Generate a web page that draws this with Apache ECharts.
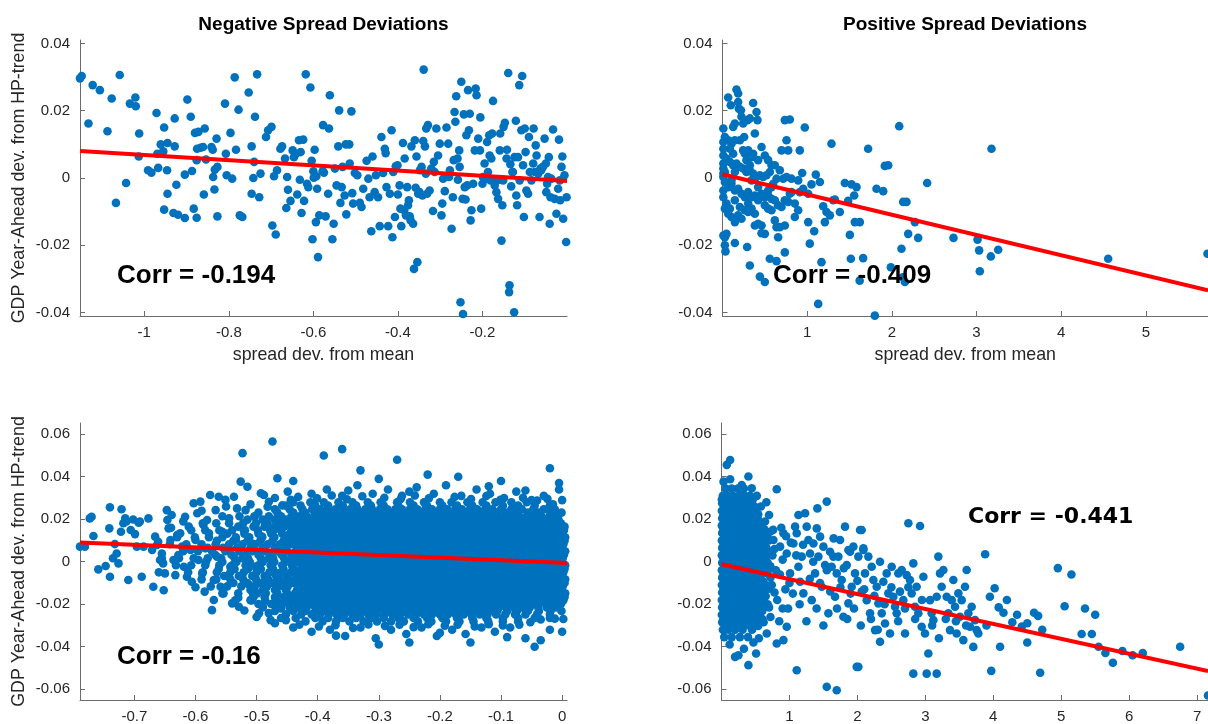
<!DOCTYPE html>
<html>
<head>
<meta charset="utf-8">
<script src="https://cdn.jsdelivr.net/npm/echarts@6/dist/echarts.min.js"></script>
<style>
  html, body { margin: 0; padding: 0; background: #fff; }
  #chart { width: 1208px; height: 724px; }
</style>
</head>
<body>
<div id="chart"></div>
<script>
// tick positions
const tlXTicks = [-1, -0.8, -0.6, -0.4, -0.2];
const trXTicks = [1, 2, 3, 4, 5];
const blXTicks = [-0.7, -0.6, -0.5, -0.4, -0.3, -0.2, -0.1, 0];
const brXTicks = [1, 2, 3, 4, 5, 6, 7];
const topYTicks = [-0.04, -0.02, 0, 0.02, 0.04];
const botYTicks = [-0.06, -0.04, -0.02, 0, 0.02, 0.04, 0.06];

// corr annotations
const corrLabels = ['Corr = -0.194', 'Corr = -0.409', 'Corr = -0.16', 'Corr = -0.441'];

// fitted lines (end points)
const tlFit = [[-1.152, 0.0080], [0, -0.0009]];
const trFit = [[0, 0.0011], [5.734, -0.0334]];
const blFit = [[-0.789, 0.0090], [0.008, -0.0006]];
const brFit = [[0, -0.0012], [7.16, -0.0515]];

// negative spread deviations, top (x, y)
const tlPoints = [[-1.152,0.0296],[-1.148,0.0303],[-1.132,0.0162],[-1.122,0.0276],[-1.105,0.0261],[-1.087,0.0139],[-1.077,0.0236],[-1.067,-0.0074],[-1.058,0.0306],[-1.043,-0.0015],[-1.034,0.0221],[-1.021,0.0239],[-1.020,0.0213],[-1.013,0.0064],[-1.012,0.0132],[-0.991,0.0023],[-0.983,0.0016],[-0.971,0.0193],[-0.969,0.0072],[-0.967,0.0030],[-0.961,0.0100],[-0.955,0.0079],[-0.953,0.0150],[-0.953,-0.0094],[-0.946,0.0023],[-0.945,0.0104],[-0.945,-0.0047],[-0.931,-0.0104],[-0.928,0.0094],[-0.928,0.0177],[-0.924,-0.0020],[-0.920,-0.0109],[-0.904,-0.0119],[-0.904,0.0010],[-0.898,0.0233],[-0.890,0.0182],[-0.887,0.0021],[-0.883,-0.0091],[-0.880,0.0134],[-0.876,-0.0118],[-0.876,0.0053],[-0.875,0.0087],[-0.872,0.0137],[-0.867,0.0090],[-0.861,0.0092],[-0.859,-0.0049],[-0.857,0.0147],[-0.854,0.0055],[-0.841,0.0092],[-0.838,0.0084],[-0.837,0.0003],[-0.834,-0.0034],[-0.833,0.0025],[-0.829,0.0117],[-0.827,-0.0114],[-0.827,0.0033],[-0.809,0.0221],[-0.807,0.0072],[-0.805,0.0008],[-0.796,0.0134],[-0.792,-0.0002],[-0.786,0.0299],[-0.783,0.0084],[-0.777,0.0203],[-0.774,-0.0111],[-0.768,-0.0116],[-0.753,0.0254],[-0.746,0.0094],[-0.746,-0.0047],[-0.742,0],[-0.740,0.0048],[-0.738,0.0182],[-0.733,0.0308],[-0.728,-0.0057],[-0.725,0.0013],[-0.712,0.0122],[-0.707,0.0142],[-0.699,0.0152],[-0.697,-0.0141],[-0.693,0.0005],[-0.689,-0.0168],[-0.686,0.0023],[-0.678,0.0087],[-0.674,0.0094],[-0.667,0.0058],[-0.664,-0.0089],[-0.662,0.0003],[-0.660,-0.0035],[-0.654,-0.0068],[-0.649,0.0082],[-0.646,0.0062],[-0.641,0.0072],[-0.638,-0.0049],[-0.634,0.0112],[-0.632,-0.0005],[-0.630,0.0077],[-0.628,-0.0104],[-0.624,0.0114],[-0.622,-0.0068],[-0.618,0.0308],[-0.615,-0.0017],[-0.612,-0.0027],[-0.607,0.0269],[-0.604,0.0051],[-0.602,-0.0182],[-0.600,0.0020],[-0.599,0.0001],[-0.597,0.0084],[-0.594,-0.0131],[-0.593,0.0005],[-0.591,-0.0032],[-0.589,-0.0235],[-0.586,-0.0111],[-0.578,0.0020],[-0.577,0.0157],[-0.575,0.0016],[-0.571,-0.0114],[-0.565,-0.0047],[-0.563,0.0147],[-0.561,0.0246],[-0.555,-0.0182],[-0.552,-0.0136],[-0.549,0.0028],[-0.545,-0.0022],[-0.541,0.0094],[-0.539,0.0201],[-0.536,-0.0074],[-0.533,-0.0027],[-0.531,0.0033],[-0.526,-0.0052],[-0.523,0.0100],[-0.522,-0.0108],[-0.515,0.0100],[-0.514,0.0043],[-0.510,0.0198],[-0.508,-0.0045],[-0.506,-0.0076],[-0.502,0.0015],[-0.496,0.0008],[-0.490,-0.0074],[-0.486,-0.0086],[-0.482,-0.0032],[-0.474,0.0051],[-0.470,-0.0002],[-0.467,-0.0057],[-0.463,-0.0158],[-0.460,0.0064],[-0.455,-0.0042],[-0.452,0.0008],[-0.447,-0.0057],[-0.443,-0.0143],[-0.439,0.0122],[-0.435,0.0015],[-0.431,0.0087],[-0.429,0.0074],[-0.427,-0.0027],[-0.423,-0.0143],[-0.419,-0.0047],[-0.415,0.0142],[-0.413,-0.0176],[-0.411,0.0018],[-0.407,-0.0116],[-0.405,0.0035],[-0.401,0.0038],[-0.400,-0.0049],[-0.396,-0.0022],[-0.394,-0.0091],[-0.392,-0.0143],[-0.388,0.0104],[-0.385,-0.0096],[-0.384,0.0058],[-0.381,-0.0111],[-0.378,-0.0027],[-0.376,-0.0081],[-0.374,-0.0066],[-0.372,-0.0114],[-0.370,-0.0126],[-0.368,0.0094],[-0.364,-0.0136],[-0.362,-0.0270],[-0.360,0.0112],[-0.358,-0.0029],[-0.356,0.0064],[-0.354,-0.0250],[-0.352,-0.0047],[-0.349,-0.0042],[-0.348,0.0023],[-0.344,0.0033],[-0.342,-0.0052],[-0.340,0.0110],[-0.339,0.0322],[-0.336,0.0094],[-0.334,0.0013],[-0.333,0.0147],[-0.331,-0.0047],[-0.329,0.0157],[-0.325,-0.0037],[-0.321,0.0028],[-0.317,-0.0098],[-0.315,0.0048],[-0.313,0.0018],[-0.309,0.0147],[-0.305,0.0067],[-0.301,0.0102],[-0.297,-0.0111],[-0.295,-0.0076],[-0.293,-0.0002],[-0.289,-0.0039],[-0.285,0.0150],[-0.281,0.0102],[-0.279,0.0003],[-0.277,0.0023],[-0.273,-0.0151],[-0.270,-0.0057],[-0.268,0.0053],[-0.266,0.0196],[-0.264,0.0167],[-0.262,0.0243],[-0.259,0.0058],[-0.258,-0.0005],[-0.255,0.0082],[-0.254,0.0033],[-0.252,-0.0369],[-0.250,0.0286],[-0.247,-0.0062],[-0.246,-0.0404],[-0.244,0.0189],[-0.242,-0.0027],[-0.240,-0.0064],[-0.238,0.0127],[-0.236,-0.0022],[-0.234,0.0261],[-0.232,0.0142],[-0.230,0.0191],[-0.228,-0.0126],[-0.226,-0.0096],[-0.222,-0.0017],[-0.218,0.0082],[-0.216,0.0266],[-0.214,0.0246],[-0.210,0.0117],[-0.206,0.0082],[-0.205,0.0180],[-0.203,-0.0091],[-0.200,-0.0017],[-0.199,0.0003],[-0.195,0.0043],[-0.191,-0.0002],[-0.189,0.0107],[-0.187,0.0018],[-0.184,0.0127],[-0.183,0.0067],[-0.181,-0.0007],[-0.179,0.0058],[-0.177,0.0132],[-0.175,0.0229],[-0.171,-0.0022],[-0.167,-0.0042],[-0.165,-0.0007],[-0.163,-0.0062],[-0.159,0.0082],[-0.158,0.0132],[-0.155,-0.0186],[-0.153,-0.0081],[-0.151,-0.0007],[-0.150,0.0152],[-0.147,0.0164],[-0.143,0.0058],[-0.142,0.0084],[-0.139,0.0312],[-0.137,-0.0339],[-0.136,-0.0319],[-0.134,0.0041],[-0.132,-0.0025],[-0.129,0.0018],[-0.128,0.0018],[-0.125,-0.0399],[-0.124,0.0062],[-0.121,0.0170],[-0.120,-0.0052],[-0.118,-0.0081],[-0.116,0.0062],[-0.113,0.0276],[-0.112,-0.0007],[-0.108,0.0142],[-0.106,0.0303],[-0.104,0.0038],[-0.102,-0.0116],[-0.100,0.0147],[-0.098,0.0077],[-0.096,-0.0037],[-0.092,-0.0047],[-0.090,0.0122],[-0.088,0.0018],[-0.084,-0.0007],[-0.080,0.0043],[-0.079,0.0147],[-0.076,0.0018],[-0.074,0.0097],[-0.072,0.0067],[-0.068,0.0013],[-0.065,-0.0116],[-0.063,0.0028],[-0.061,0.0023],[-0.057,0.0033],[-0.053,0.0117],[-0.050,0.0043],[-0.049,-0.0042],[-0.047,-0.0017],[-0.045,0.0003],[-0.043,0.0062],[-0.041,-0.0136],[-0.039,-0.0057],[-0.037,-0.0002],[-0.033,0.0144],[-0.029,-0.0062],[-0.025,-0.0106],[-0.021,-0.0032],[-0.019,0.0114],[-0.017,-0.0007],[-0.016,-0.0066],[-0.013,0.0033],[-0.011,0.0064],[-0.009,-0.0121],[-0.006,0.0008],[-0.002,-0.0190],[-0.001,-0.0057]];

// positive spread deviations, top (x, y)
const trPoints = [[0.067,0.0239],[0.098,0.0216],[0.126,0.0152],[0.146,0.0162],[0.165,0.0263],[0.185,0.0251],[0.185,0.0226],[0.193,0.0206],[0.217,0.0201],[0.224,0.0182],[0.244,0.0162],[0.256,0.0122],[0.295,0.0172],[0.323,0.0177],[0.362,0.0223],[0.382,0.0132],[0.402,0.0196],[0.413,0.0172],[0.01,0.0147],[0.01,0.0107],[0.01,0.0087],[0.028,0.0122],[0.067,0.0112],[0.087,0.0087],[0.106,0.0102],[0.146,0.0112],[0.205,0.0112],[0.244,0.0082],[0.264,0.0072],[0.303,0.0082],[0.343,0.0062],[0.362,0.0072],[0.421,0.0053],[0.461,0.0092],[0.500,0.0067],[0.539,0.0053],[0.579,0.0038],[0.618,0.0038],[0.01,0.0028],[0.01,0.0043],[0.047,0.0058],[0.087,0.0048],[0.126,0.0038],[0.165,0.0043],[0.205,0.0033],[0.244,0.0028],[0.283,0.0018],[0.323,0.0023],[0.362,0.0013],[0.402,0.0003],[0.441,0.0008],[0.480,0.0003],[0.520,0.0008],[0.559,0.0018],[0.598,-0.0017],[0.638,-0.0002],[0.677,0.0023],[0.717,-0.0002],[0.756,0.0003],[0.795,-0.0047],[0.01,0.0003],[0.028,-0.0012],[0.067,-0.0027],[0.106,-0.0017],[0.146,-0.0037],[0.185,-0.0032],[0.224,-0.0047],[0.264,-0.0057],[0.303,-0.0042],[0.343,-0.0057],[0.382,-0.0052],[0.421,-0.0027],[0.461,-0.0047],[0.500,-0.0057],[0.539,-0.0052],[0.579,-0.0062],[0.618,-0.0066],[0.657,-0.0081],[0.697,-0.0086],[0.736,-0.0066],[0.776,-0.0071],[0.815,-0.0042],[0.01,-0.0037],[0.01,-0.0057],[0.028,-0.0091],[0.067,-0.0106],[0.106,-0.0116],[0.146,-0.0131],[0.185,-0.0111],[0.224,-0.0121],[0.264,-0.0096],[0.303,-0.0101],[0.343,-0.0091],[0.382,-0.0106],[0.421,-0.0136],[0.461,-0.0141],[0.500,-0.0081],[0.539,-0.0091],[0.579,-0.0096],[0.618,-0.0126],[0.638,-0.0146],[0.677,-0.0146],[0.736,-0.0141],[0.854,-0.0116],[0.894,-0.0007],[0.913,0.0082],[0.941,0.0015],[0.972,0.0150],[1.012,-0.0131],[1.031,-0.0195],[1.051,-0.0019],[1.083,-0.0158],[1.102,0.0010],[1.150,-0.0012],[1.169,-0.0250],[1.189,-0.0084],[1.209,-0.0131],[1.228,-0.0101],[1.287,0.0102],[1.268,-0.0111],[1.307,-0.0066],[1.327,-0.0064],[1.386,-0.0101],[1.445,-0.0015],[1.484,-0.0068],[1.504,-0.0169],[1.516,-0.0240],[1.524,-0.0019],[1.555,-0.0052],[1.563,-0.0131],[1.583,-0.0027],[1.622,-0.0131],[1.661,-0.0238],[1.720,0.0087],[1.819,-0.0032],[1.898,-0.0039],[1.917,0.0036],[1.957,0.0038],[1.988,-0.0265],[2.087,0.0154],[2.114,-0.0210],[2.134,-0.0071],[2.154,-0.0309],[2.173,-0.0071],[2.193,-0.0166],[2.272,-0.0131],[2.311,-0.0178],[2.417,-0.0015],[2.728,-0.0178],[3.012,-0.0183],[3.031,-0.0215],[3.039,-0.0277],[3.169,-0.0233],[3.177,0.0087],[3.256,-0.0213],[4.555,-0.0240],[5.728,-0.0225],[0.01,-0.0171],[0.028,-0.0200],[0.035,-0.0218],[0.146,-0.0193],[0.291,-0.0205],[0.323,-0.0260],[0.441,-0.0293],[0.500,-0.0309],[0.559,-0.0240],[0.638,-0.0247],[0.657,-0.0176],[0.736,-0.0221],[1.130,-0.0374],[1.799,-0.0409],[0.047,-0.0166],[0.500,-0.0166],[0.461,-0.0164],[0.382,-0.0141],[0.421,-0.0066],[0.028,-0.0176],[0.106,-0.0007],[0.146,0.0018],[0.028,0.0018],[0.01,0.0013],[0.01,0.0067],[0.126,0.0072],[0.283,0.0053],[0.323,0.0038],[0.343,-0.0007],[0.146,-0.0066],[0.205,-0.0086],[0.047,-0.0076],[0.087,-0.0091],[0.303,-0.0076],[0.815,-0.0002],[0.776,0.0082],[0.756,0.0112],[0.736,0.0172],[0.795,0.0174],[0.697,0.0082],[0.913,-0.0042],[0.953,-0.0032],[1.012,-0.0047],[0.854,-0.0076],[0.894,-0.0096],[0.539,-0.0037],[0.579,-0.0027],[2.13,-0.0295],[1.62,-0.0305]];

// negative spread deviations, bottom: dense core read row by row [y, [x...]]
const blRows = [
  [0.0280, [-0.44,-0.412,-0.39,-0.366,-0.343,-0.318,-0.297,-0.27,-0.249,-0.226,-0.2,-0.181,-0.155,-0.13,-0.109,-0.083,-0.058]],
  [0.0264, [-0.452,-0.428,-0.404,-0.383,-0.359,-0.337,-0.313,-0.292,-0.268,-0.243,-0.221,-0.196,-0.172,-0.147,-0.124,-0.097,-0.072,-0.045,-0.02]],
  [0.0247, [-0.47,-0.446,-0.425,-0.409,-0.396,-0.384,-0.371,-0.36,-0.347,-0.335,-0.322,-0.311,-0.298,-0.286,-0.273,-0.262,-0.249,-0.237,-0.224,-0.213,-0.2,-0.188,-0.175,-0.164,-0.151,-0.139,-0.126,-0.114,-0.1,-0.083,-0.066,-0.047,-0.03,-0.012]],
  [0.0231, [-0.497,-0.466,-0.44,-0.421,-0.403,-0.39,-0.378,-0.365,-0.353,-0.341,-0.328,-0.316,-0.304,-0.291,-0.279,-0.267,-0.254,-0.242,-0.23,-0.217,-0.205,-0.193,-0.18,-0.168,-0.156,-0.143,-0.131,-0.119,-0.106,-0.09,-0.074,-0.056,-0.038,-0.019,-0.001]],
  [0.0214, [-0.556,-0.528,-0.503,-0.48,-0.46,-0.443,-0.43,-0.418,-0.406,-0.394,-0.382,-0.37,-0.358,-0.346,-0.334,-0.322,-0.31,-0.298,-0.286,-0.274,-0.262,-0.25,-0.238,-0.226,-0.214,-0.202,-0.19,-0.178,-0.166,-0.154,-0.142,-0.13,-0.118,-0.106,-0.094,-0.082,-0.07,-0.058,-0.046,-0.034,-0.021,-0.008]],
  [0.0198, [-0.515,-0.49,-0.47,-0.452,-0.439,-0.427,-0.415,-0.403,-0.391,-0.379,-0.367,-0.355,-0.343,-0.331,-0.319,-0.307,-0.295,-0.283,-0.271,-0.259,-0.247,-0.235,-0.223,-0.211,-0.199,-0.187,-0.175,-0.163,-0.151,-0.139,-0.127,-0.115,-0.103,-0.091,-0.079,-0.067,-0.055,-0.043,-0.031,-0.019,-0.006]],
  [0.0181, [-0.588,-0.566,-0.545,-0.522,-0.501,-0.482,-0.465,-0.449,-0.436,-0.424,-0.412,-0.4,-0.388,-0.376,-0.364,-0.352,-0.34,-0.328,-0.316,-0.304,-0.292,-0.28,-0.268,-0.256,-0.244,-0.232,-0.22,-0.208,-0.196,-0.184,-0.172,-0.16,-0.148,-0.136,-0.124,-0.112,-0.1,-0.088,-0.076,-0.064,-0.052,-0.04,-0.028,-0.015,-0.002]],
  [0.0165, [-0.53,-0.505,-0.487,-0.47,-0.455,-0.441,-0.428,-0.416,-0.404,-0.392,-0.38,-0.368,-0.356,-0.344,-0.332,-0.32,-0.308,-0.296,-0.284,-0.272,-0.26,-0.248,-0.236,-0.224,-0.212,-0.2,-0.188,-0.176,-0.164,-0.152,-0.14,-0.128,-0.116,-0.104,-0.092,-0.08,-0.068,-0.056,-0.044,-0.032,-0.02,-0.008,0.004]],
  [0.0148, [-0.607,-0.584,-0.561,-0.54,-0.519,-0.498,-0.478,-0.46,-0.443,-0.431,-0.419,-0.405,-0.394,-0.381,-0.37,-0.357,-0.346,-0.333,-0.322,-0.309,-0.298,-0.285,-0.274,-0.261,-0.25,-0.237,-0.226,-0.213,-0.202,-0.189,-0.178,-0.165,-0.154,-0.141,-0.13,-0.117,-0.106,-0.093,-0.082,-0.069,-0.058,-0.045,-0.034,-0.021,-0.01,0.003]],
  [0.0132, [-0.548,-0.52,-0.497,-0.476,-0.458,-0.446,-0.434,-0.422,-0.41,-0.398,-0.386,-0.374,-0.362,-0.35,-0.338,-0.326,-0.314,-0.302,-0.29,-0.278,-0.266,-0.254,-0.242,-0.23,-0.218,-0.206,-0.194,-0.182,-0.17,-0.158,-0.146,-0.134,-0.122,-0.11,-0.098,-0.086,-0.074,-0.062,-0.05,-0.038,-0.026,-0.014,-0.002]],
  [0.0115, [-0.63,-0.601,-0.578,-0.556,-0.534,-0.512,-0.491,-0.471,-0.452,-0.437,-0.425,-0.412,-0.401,-0.388,-0.377,-0.364,-0.353,-0.34,-0.329,-0.316,-0.305,-0.292,-0.281,-0.268,-0.257,-0.244,-0.233,-0.22,-0.209,-0.196,-0.185,-0.172,-0.161,-0.148,-0.137,-0.124,-0.113,-0.1,-0.089,-0.076,-0.065,-0.052,-0.041,-0.028,-0.017,-0.004,0.005]],
  [0.0099, [-0.565,-0.538,-0.515,-0.494,-0.474,-0.456,-0.44,-0.428,-0.416,-0.404,-0.392,-0.38,-0.368,-0.356,-0.344,-0.332,-0.32,-0.308,-0.296,-0.284,-0.272,-0.26,-0.248,-0.236,-0.224,-0.212,-0.2,-0.188,-0.176,-0.164,-0.152,-0.14,-0.128,-0.116,-0.104,-0.092,-0.08,-0.068,-0.056,-0.044,-0.032,-0.02,-0.008,0.004]],
  [0.0082, [-0.642,-0.615,-0.59,-0.567,-0.545,-0.523,-0.502,-0.482,-0.462,-0.445,-0.43,-0.418,-0.407,-0.394,-0.383,-0.37,-0.359,-0.346,-0.335,-0.322,-0.311,-0.298,-0.287,-0.274,-0.263,-0.25,-0.239,-0.226,-0.215,-0.202,-0.191,-0.178,-0.167,-0.154,-0.143,-0.13,-0.119,-0.106,-0.095,-0.082,-0.071,-0.058,-0.047,-0.034,-0.023,-0.01,0.002]],
  [0.0066, [-0.58,-0.555,-0.532,-0.51,-0.49,-0.47,-0.452,-0.434,-0.422,-0.41,-0.398,-0.386,-0.374,-0.362,-0.35,-0.338,-0.326,-0.314,-0.302,-0.29,-0.278,-0.266,-0.254,-0.242,-0.23,-0.218,-0.206,-0.194,-0.182,-0.17,-0.158,-0.146,-0.134,-0.122,-0.11,-0.098,-0.086,-0.074,-0.062,-0.05,-0.038,-0.026,-0.014,-0.002]],
  [0.0049, [-0.62,-0.596,-0.573,-0.551,-0.529,-0.507,-0.486,-0.466,-0.45,-0.436,-0.424,-0.413,-0.4,-0.389,-0.376,-0.365,-0.352,-0.341,-0.328,-0.317,-0.304,-0.293,-0.28,-0.269,-0.256,-0.245,-0.232,-0.221,-0.208,-0.197,-0.184,-0.173,-0.16,-0.149,-0.136,-0.125,-0.112,-0.101,-0.088,-0.077,-0.064,-0.053,-0.04,-0.029,-0.016,-0.005,0.005]],
  [0.0033, [-0.568,-0.541,-0.518,-0.497,-0.477,-0.459,-0.442,-0.429,-0.417,-0.405,-0.393,-0.381,-0.369,-0.357,-0.345,-0.333,-0.321,-0.309,-0.297,-0.285,-0.273,-0.261,-0.249,-0.237,-0.225,-0.213,-0.201,-0.189,-0.177,-0.165,-0.153,-0.141,-0.129,-0.117,-0.105,-0.093,-0.081,-0.069,-0.057,-0.045,-0.033,-0.021,-0.009,0.003]],
  [0.0016, [-0.655,-0.627,-0.603,-0.58,-0.558,-0.536,-0.514,-0.493,-0.473,-0.455,-0.443,-0.431,-0.419,-0.406,-0.395,-0.382,-0.371,-0.358,-0.347,-0.334,-0.323,-0.31,-0.299,-0.286,-0.275,-0.262,-0.251,-0.238,-0.227,-0.214,-0.203,-0.19,-0.179,-0.166,-0.155,-0.142,-0.131,-0.118,-0.107,-0.094,-0.083,-0.07,-0.059,-0.046,-0.035,-0.022,-0.011,0.001]],
  [-0.0001, [-0.583,-0.556,-0.533,-0.511,-0.49,-0.471,-0.453,-0.435,-0.423,-0.411,-0.399,-0.387,-0.375,-0.363,-0.351,-0.339,-0.327,-0.315,-0.303,-0.291,-0.279,-0.267,-0.255,-0.243,-0.231,-0.219,-0.207,-0.195,-0.183,-0.171,-0.159,-0.147,-0.135,-0.123,-0.111,-0.099,-0.087,-0.075,-0.063,-0.051,-0.039,-0.027,-0.015,-0.003]],
  [-0.0017, [-0.632,-0.607,-0.584,-0.561,-0.54,-0.518,-0.497,-0.477,-0.458,-0.442,-0.425,-0.412,-0.401,-0.388,-0.377,-0.364,-0.353,-0.34,-0.329,-0.316,-0.305,-0.292,-0.281,-0.268,-0.257,-0.244,-0.233,-0.22,-0.209,-0.196,-0.185,-0.172,-0.161,-0.148,-0.137,-0.124,-0.113,-0.1,-0.089,-0.076,-0.065,-0.052,-0.041,-0.028,-0.017,-0.004,0.005]],
  [-0.0034, [-0.562,-0.536,-0.514,-0.493,-0.473,-0.456,-0.44,-0.428,-0.416,-0.404,-0.392,-0.38,-0.368,-0.356,-0.344,-0.332,-0.32,-0.308,-0.296,-0.284,-0.272,-0.26,-0.248,-0.236,-0.224,-0.212,-0.2,-0.188,-0.176,-0.164,-0.152,-0.14,-0.128,-0.116,-0.104,-0.092,-0.08,-0.068,-0.056,-0.044,-0.032,-0.02,-0.008,0.004]],
  [-0.0050, [-0.612,-0.588,-0.565,-0.543,-0.521,-0.5,-0.479,-0.46,-0.444,-0.43,-0.418,-0.407,-0.394,-0.383,-0.37,-0.359,-0.346,-0.335,-0.322,-0.311,-0.298,-0.287,-0.274,-0.263,-0.25,-0.239,-0.226,-0.215,-0.202,-0.191,-0.178,-0.167,-0.154,-0.143,-0.13,-0.119,-0.106,-0.095,-0.082,-0.071,-0.058,-0.047,-0.034,-0.023,-0.01,0.002]],
  [-0.0067, [-0.553,-0.529,-0.507,-0.487,-0.468,-0.451,-0.434,-0.422,-0.41,-0.398,-0.386,-0.374,-0.362,-0.35,-0.338,-0.326,-0.314,-0.302,-0.29,-0.278,-0.266,-0.254,-0.242,-0.23,-0.218,-0.206,-0.194,-0.182,-0.17,-0.158,-0.146,-0.134,-0.122,-0.11,-0.098,-0.086,-0.074,-0.062,-0.05,-0.038,-0.026,-0.014,-0.002]],
  [-0.0083, [-0.59,-0.566,-0.543,-0.522,-0.501,-0.481,-0.463,-0.447,-0.436,-0.424,-0.413,-0.4,-0.389,-0.376,-0.365,-0.352,-0.341,-0.328,-0.317,-0.304,-0.293,-0.28,-0.269,-0.256,-0.245,-0.232,-0.221,-0.208,-0.197,-0.184,-0.173,-0.16,-0.149,-0.136,-0.125,-0.112,-0.101,-0.088,-0.077,-0.064,-0.053,-0.04,-0.029,-0.016,-0.005,0.005]],
  [-0.0100, [-0.538,-0.515,-0.494,-0.474,-0.456,-0.44,-0.428,-0.416,-0.404,-0.392,-0.38,-0.368,-0.356,-0.344,-0.332,-0.32,-0.308,-0.296,-0.284,-0.272,-0.26,-0.248,-0.236,-0.224,-0.212,-0.2,-0.188,-0.176,-0.164,-0.152,-0.14,-0.128,-0.116,-0.104,-0.092,-0.08,-0.068,-0.056,-0.044,-0.032,-0.02,-0.008,0.004]],
  [-0.0116, [-0.575,-0.548,-0.525,-0.503,-0.483,-0.465,-0.449,-0.431,-0.419,-0.406,-0.395,-0.382,-0.371,-0.358,-0.347,-0.334,-0.323,-0.31,-0.299,-0.286,-0.275,-0.262,-0.251,-0.238,-0.227,-0.214,-0.203,-0.19,-0.179,-0.166,-0.155,-0.142,-0.131,-0.118,-0.107,-0.094,-0.083,-0.07,-0.059,-0.046,-0.035,-0.022,-0.011,0.001]],
  [-0.0133, [-0.51,-0.49,-0.47,-0.452,-0.434,-0.422,-0.41,-0.398,-0.386,-0.374,-0.362,-0.35,-0.338,-0.326,-0.314,-0.302,-0.29,-0.278,-0.266,-0.254,-0.242,-0.23,-0.218,-0.206,-0.194,-0.182,-0.17,-0.158,-0.146,-0.134,-0.122,-0.11,-0.098,-0.086,-0.074,-0.062,-0.05,-0.038,-0.026,-0.014,-0.002]],
  [-0.0149, [-0.556,-0.53,-0.506,-0.485,-0.466,-0.45,-0.437,-0.425,-0.412,-0.401,-0.388,-0.377,-0.364,-0.353,-0.34,-0.329,-0.316,-0.305,-0.292,-0.281,-0.268,-0.257,-0.244,-0.233,-0.22,-0.209,-0.196,-0.185,-0.172,-0.161,-0.148,-0.137,-0.124,-0.113,-0.1,-0.089,-0.076,-0.065,-0.052,-0.041,-0.028,-0.017,-0.004,0.005]],
  [-0.0166, [-0.505,-0.487,-0.47,-0.455,-0.441,-0.428,-0.416,-0.404,-0.392,-0.38,-0.368,-0.356,-0.344,-0.332,-0.32,-0.308,-0.296,-0.284,-0.272,-0.26,-0.248,-0.236,-0.224,-0.212,-0.2,-0.188,-0.176,-0.164,-0.152,-0.14,-0.128,-0.116,-0.104,-0.092,-0.08,-0.068,-0.056,-0.044,-0.032,-0.02,-0.008,0.004]],
  [-0.0182, [-0.535,-0.508,-0.486,-0.467,-0.449,-0.43,-0.418,-0.407,-0.394,-0.383,-0.37,-0.359,-0.346,-0.335,-0.322,-0.311,-0.298,-0.287,-0.274,-0.263,-0.25,-0.239,-0.226,-0.215,-0.202,-0.191,-0.178,-0.167,-0.154,-0.143,-0.13,-0.119,-0.106,-0.095,-0.082,-0.071,-0.058,-0.047,-0.034,-0.023,-0.01,0.002]],
  [-0.0199, [-0.497,-0.476,-0.458,-0.446,-0.434,-0.422,-0.41,-0.398,-0.386,-0.374,-0.362,-0.35,-0.338,-0.326,-0.314,-0.302,-0.29,-0.278,-0.266,-0.254,-0.242,-0.23,-0.218,-0.206,-0.194,-0.182,-0.17,-0.158,-0.146,-0.134,-0.122,-0.11,-0.098,-0.086,-0.074,-0.062,-0.05,-0.038,-0.026,-0.014,-0.002]],
  [-0.0215, [-0.49,-0.465,-0.446,-0.431,-0.418,-0.404,-0.392,-0.379,-0.367,-0.355,-0.343,-0.331,-0.319,-0.307,-0.295,-0.283,-0.271,-0.259,-0.247,-0.235,-0.223,-0.211,-0.199,-0.187,-0.175,-0.163,-0.151,-0.139,-0.127,-0.115,-0.103,-0.091,-0.079,-0.066,-0.053,-0.039,-0.025,-0.01]],
  [-0.0232, [-0.47,-0.44,-0.421,-0.403,-0.39,-0.378,-0.365,-0.353,-0.341,-0.328,-0.316,-0.304,-0.291,-0.279,-0.267,-0.254,-0.242,-0.23,-0.217,-0.205,-0.193,-0.18,-0.168,-0.156,-0.143,-0.131,-0.119,-0.106,-0.09,-0.074,-0.056,-0.038,-0.019,-0.001]],
  [-0.0248, [-0.452,-0.427,-0.41,-0.396,-0.382,-0.369,-0.356,-0.343,-0.33,-0.317,-0.304,-0.291,-0.278,-0.265,-0.252,-0.239,-0.226,-0.213,-0.2,-0.187,-0.174,-0.161,-0.148,-0.135,-0.122,-0.108,-0.093,-0.077,-0.06,-0.041,-0.02]],
  [-0.0265, [-0.436,-0.404,-0.383,-0.359,-0.337,-0.313,-0.292,-0.268,-0.243,-0.221,-0.196,-0.172,-0.147,-0.124,-0.097,-0.072,-0.045,-0.02]],
  [-0.0281, [-0.42,-0.392,-0.37,-0.348,-0.325,-0.303,-0.28,-0.259,-0.236,-0.214,-0.19,-0.168,-0.145,-0.121,-0.097,-0.072]]
];
// negative spread deviations, bottom: scattered points (x, y)
const blPoints = [[-0.789,0.0071],[-0.781,0.0071],[-0.773,0.0204],[-0.770,0.0212],[-0.767,0.0121],[-0.759,-0.0036],[-0.747,-0.0020],[-0.740,0.0256],[-0.740,-0.0071],[-0.741,0.0157],[-0.735,0.0016],[-0.732,0.0083],[-0.729,0.0039],[-0.726,-0.0008],[-0.722,0.0141],[-0.721,0.0247],[-0.718,0.0181],[-0.715,0.0204],[-0.713,0.0189],[-0.710,-0.0086],[-0.706,0.0149],[-0.702,0.0199],[-0.699,0.0130],[-0.696,0.0071],[-0.693,0.0184],[-0.691,0.0189],[-0.688,-0.0071],[-0.685,0.0071],[-0.677,0.0204],[-0.671,0.0055],[-0.669,-0.0118],[-0.666,0.0118],[-0.663,0.0079],[-0.661,0.0094],[-0.658,0.0008],[-0.655,0.0039],[-0.653,-0.0008],[-0.652,-0.0134],[-0.650,-0.0055],[-0.647,0.0243],[-0.646,0.0196],[-0.644,0.0157],[-0.641,0.0102],[-0.639,0.0220],[-0.636,0.0008],[-0.633,-0.0063],[-0.630,0.0126],[-0.628,0.0031],[-0.625,0.0134],[-0.622,0.0071],[-0.619,-0.0024],[-0.617,0.0212],[-0.614,-0.0071],[-0.611,0.0165],[-0.608,0.0055],[-0.606,-0.0094],[-0.603,0.0275],[-0.600,0.0102],[-0.597,0.0228],[-0.595,0.0008],[-0.592,0.0283],[-0.589,-0.0055],[-0.587,0.0173],[-0.585,-0.0141],[-0.584,0.0063],[-0.581,0.0196],[-0.578,0.0134],[-0.576,0.0314],[-0.573,-0.0228],[-0.570,-0.0086],[-0.567,0.0243],[-0.565,0.0024],[-0.562,0.0306],[-0.559,-0.0118],[-0.556,0.0141],[-0.554,-0.0149],[-0.551,0.0291],[-0.548,0.0063],[-0.545,0.0204],[-0.543,-0.0024],[-0.540,-0.0196],[-0.537,0.0306],[-0.534,0.0102],[-0.532,0.0251],[-0.529,-0.0212],[-0.526,0.0377],[-0.523,0.0016],[-0.521,0.0149],[-0.518,0.0243],[-0.515,0.0353],[-0.512,-0.0110],[-0.510,-0.0181],[-0.507,0.0086],[-0.504,0.0212],[-0.502,-0.0024],[-0.499,-0.0149],[-0.496,-0.0243],[-0.493,0.0322],[-0.491,0.0118],[-0.488,0.0314],[-0.485,-0.0086],[-0.482,0.0259],[-0.480,0.0016],[-0.477,-0.0275],[-0.474,0.0566],[-0.471,0.0149],[-0.469,-0.0181],[-0.466,0.0393],[-0.463,-0.0055],[-0.460,0.0055],[-0.458,0.0189],[-0.455,-0.0118],[-0.452,-0.0275],[-0.449,0.0330],[-0.447,0.0102],[-0.444,0.0291],[-0.441,-0.0024],[-0.438,-0.0189],[-0.436,0.0212],[-0.433,0.0047],[-0.430,-0.0086],[-0.523,0.0511],[-0.41,0.032],[-0.385,0.034],[-0.36,0.031],[-0.335,0.036],[-0.31,0.032],[-0.285,0.034],[-0.262,0.031],[-0.238,0.035],[-0.21,0.032],[-0.19,0.036],[-0.165,0.031],[-0.14,0.034],[-0.118,0.032],[-0.095,0.030],[-0.075,0.033],[-0.05,0.029],[-0.03,0.031],[-0.015,0.027],[0.0,0.029],[-0.36,0.053],[-0.39,0.050],[-0.27,0.048],[-0.02,0.044],[-0.33,0.043],[-0.22,0.041],[-0.44,0.038],[-0.30,0.039],[-0.17,0.040],[-0.10,0.038],[-0.005,0.037],[-0.005,0.034],[-0.44,-0.031],[-0.41,-0.033],[-0.38,-0.032],[-0.355,-0.035],[-0.33,-0.031],[-0.305,-0.036],[-0.28,-0.032],[-0.255,-0.034],[-0.23,-0.031],[-0.205,-0.035],[-0.18,-0.032],[-0.158,-0.034],[-0.132,-0.031],[-0.11,-0.033],[-0.085,-0.031],[-0.06,-0.036],[-0.045,-0.040],[-0.035,-0.037],[-0.02,-0.032],[-0.30,-0.039],[-0.47,-0.029],[-0.50,-0.026],[-0.52,-0.023],[-0.25,-0.038],[-0.15,-0.038],[0.002,-0.027],[0.0,-0.033],[-0.432,0.0305],[-0.401,0.0298],[-0.377,0.0312],[-0.352,0.0294],[-0.327,0.0308],[-0.291,0.0301],[-0.264,0.0296],[-0.241,0.0312],[-0.218,0.0299],[-0.176,0.0305],[-0.149,0.0295],[-0.124,0.0309],[-0.101,0.0292],[-0.064,0.0301],[-0.041,0.0288],[-0.024,0.0296],[-0.458,0.0265],[-0.48,0.0282],[-0.35,0.0335],[-0.25,0.033],[-0.12,0.0355],[-0.06,0.0335],[-0.43,-0.0296],[-0.398,-0.0305],[-0.371,-0.0299],[-0.342,-0.0312],[-0.317,-0.0295],[-0.29,-0.0302],[-0.266,-0.0296],[-0.243,-0.0308],[-0.219,-0.0294],[-0.192,-0.0301],[-0.171,-0.0296],[-0.143,-0.0305],[-0.12,-0.0294],[-0.097,-0.030],[-0.07,-0.0296],[-0.052,-0.0285],[-0.035,-0.0272],[-0.012,-0.0268],[-0.46,-0.0265],[-0.48,-0.0242],[-0.2,-0.0335],[-0.37,-0.0348],[-0.09,-0.0355],[-0.59,0.024],[-0.57,-0.018],[-0.55,0.026],[-0.53,-0.017],[-0.51,0.027],[-0.49,-0.021],[-0.47,0.030],[-0.46,-0.022],[-0.62,0.019],[-0.60,-0.012],[-0.64,0.016],[-0.66,-0.005]];

// positive spread deviations, bottom: dense column near zero [y, [x...]]
const brRows = [
  [0.0345, [0.06,0.15,0.24,0.33]],
  [0.0310, [0.02,0.09,0.17,0.26,0.34,0.42]],
  [0.0293, [0.005,0.05,0.13,0.21,0.3,0.38,0.46]],
  [0.0275, [0.01,0.07,0.13,0.2,0.28,0.36,0.45]],
  [0.0258, [0.04,0.1,0.17,0.24,0.32,0.4,0.49]],
  [0.0240, [0.005,0.06,0.12,0.19,0.25,0.33,0.41,0.5]],
  [0.0223, [0.03,0.09,0.16,0.22,0.29,0.37,0.45,0.54]],
  [0.0205, [0.01,0.08,0.15,0.22,0.29,0.37,0.44,0.53]],
  [0.0188, [0.04,0.11,0.18,0.25,0.33,0.4,0.48,0.56]],
  [0.0170, [0.005,0.06,0.13,0.2,0.27,0.35,0.43,0.5,0.58]],
  [0.0153, [0.03,0.1,0.17,0.24,0.31,0.39,0.47,0.54,0.63]],
  [0.0135, [0.01,0.08,0.15,0.23,0.3,0.38,0.46,0.55]],
  [0.0118, [0.04,0.11,0.18,0.26,0.34,0.42,0.5,0.59,0.67]],
  [0.0100, [0.005,0.06,0.12,0.19,0.26,0.34,0.42,0.5,0.6,0.7]],
  [0.0083, [0.03,0.1,0.17,0.24,0.32,0.4,0.48,0.57,0.63]],
  [0.0065, [0.01,0.08,0.15,0.22,0.3,0.38,0.47,0.56,0.66]],
  [0.0048, [0.04,0.11,0.18,0.26,0.34,0.42,0.51,0.6,0.7]],
  [0.0030, [0.005,0.06,0.13,0.2,0.27,0.35,0.43,0.52,0.62,0.75]],
  [0.0013, [0.03,0.1,0.17,0.24,0.31,0.39,0.47,0.56,0.65]],
  [-0.0005, [0.01,0.08,0.16,0.24,0.32,0.41,0.5,0.58,0.68]],
  [-0.0022, [0.04,0.12,0.2,0.28,0.36,0.45,0.54,0.63,0.72]],
  [-0.0040, [0.005,0.06,0.13,0.2,0.28,0.36,0.45,0.54,0.64,0.8]],
  [-0.0057, [0.03,0.1,0.17,0.25,0.33,0.41,0.5,0.59,0.68]],
  [-0.0075, [0.01,0.08,0.15,0.23,0.31,0.39,0.48,0.57,0.72]],
  [-0.0092, [0.04,0.11,0.19,0.27,0.35,0.43,0.52,0.61]],
  [-0.0110, [0.005,0.06,0.13,0.21,0.29,0.37,0.46,0.55,0.65]],
  [-0.0127, [0.03,0.1,0.18,0.26,0.34,0.43,0.51,0.6,0.7]],
  [-0.0145, [0.01,0.08,0.16,0.24,0.33,0.42,0.52,0.61,0.78]],
  [-0.0162, [0.04,0.12,0.2,0.28,0.37,0.46,0.55,0.65]],
  [-0.0180, [0.005,0.06,0.13,0.21,0.3,0.4,0.49,0.58]],
  [-0.0197, [0.03,0.1,0.18,0.27,0.36,0.45,0.53,0.63]],
  [-0.0215, [0.01,0.08,0.16,0.25,0.34,0.44,0.55,0.7]],
  [-0.0232, [0.04,0.12,0.2,0.29,0.38,0.48,0.6]],
  [-0.0250, [0.005,0.07,0.14,0.23,0.32,0.43,0.52]],
  [-0.0267, [0.03,0.11,0.19,0.27,0.36,0.46,0.56]],
  [-0.0285, [0.01,0.09,0.18,0.28,0.38,0.5,0.62]],
  [-0.0302, [0.05,0.13,0.23,0.33,0.42,0.54]],
  [-0.0320, [0.02,0.1,0.2,0.31,0.45]],
  [-0.0355, [0.04,0.15,0.27,0.39]]
];
// positive spread deviations, bottom: scattered points (x, y)
const brPoints = [[0.813,0.0341],[0.641,0.0189],[0.715,0.0141],[0.764,0.0102],[0.862,0.0071],[0.911,0.0134],[0.960,0.0039],[1.009,-0.0055],[1.058,0.0086],[1.083,0.0165],[1.107,0.0134],[1.132,-0.0024],[1.156,-0.0094],[1.181,0.0024],[1.205,-0.0149],[1.230,0.0228],[1.254,0.0165],[1.279,0.0102],[1.303,0.0039],[1.328,-0.0181],[1.353,0.0086],[1.377,-0.0055],[1.402,0.0157],[1.411,0.0251],[1.426,0.0024],[1.451,0.0118],[1.475,-0.0118],[1.500,0.0071],[1.524,-0.0016],[1.549,0.0283],[1.573,-0.0243],[1.598,0.0047],[1.622,-0.0024],[1.647,0.0024],[1.671,-0.0165],[1.696,-0.0055],[1.720,0.0024],[1.745,0.0102],[1.769,-0.0086],[1.794,-0.0259],[1.818,0.0165],[1.843,-0.0016],[1.867,-0.0196],[1.892,0.0047],[1.916,-0.0118],[1.941,0.0071],[1.965,-0.0055],[1.990,-0.0495],[2.014,0.0024],[2.039,0.0149],[2.063,-0.0141],[2.088,0.0055],[2.112,-0.0055],[2.137,-0.0181],[2.161,0.0024],[2.186,-0.0243],[2.210,-0.0024],[2.235,-0.0086],[2.260,-0.0322],[2.284,-0.0118],[2.309,-0.0196],[2.333,0],[2.358,-0.0243],[2.382,-0.0094],[2.407,-0.0291],[2.431,-0.0055],[2.456,-0.0149],[2.480,-0.0338],[2.505,-0.0024],[2.529,-0.0165],[2.554,-0.0212],[2.578,-0.0243],[2.603,-0.0055],[2.627,-0.0141],[2.652,-0.0039],[2.676,-0.0181],[2.701,-0.0338],[2.725,-0.0063],[2.750,0.0181],[2.774,-0.0086],[2.799,-0.0149],[2.823,-0.0008],[2.848,-0.0212],[2.872,-0.0118],[2.897,-0.0243],[2.922,0.0168],[2.946,-0.0306],[2.971,-0.0071],[2.995,-0.0338],[3.020,-0.0527],[3.044,-0.0432],[3.069,-0.0181],[3.093,-0.0243],[3.118,-0.0275],[3.167,-0.0165],[3.191,0.0024],[3.216,-0.0055],[3.240,-0.0118],[3.265,-0.0039],[3.314,-0.0165],[3.339,-0.0243],[3.363,-0.0322],[3.388,-0.0181],[3.412,-0.0086],[3.437,-0.0212],[3.461,-0.0338],[3.486,-0.0149],[3.510,-0.0259],[3.535,-0.0181],[3.559,-0.0369],[3.584,-0.0118],[3.608,-0.0039],[3.633,-0.0243],[3.657,-0.0306],[3.682,-0.0212],[3.706,-0.0401],[3.731,-0.0275],[3.755,-0.0322],[3.780,-0.0338],[1.107,-0.0511],[1.549,-0.0589],[1.696,-0.0605],[0.2,-0.0448],[0.249,-0.0440],[0.396,-0.0487],[0.509,-0.0432],[0.666,-0.0338],[0.813,-0.0385],[0.911,-0.0369],[0.960,-0.0306],[2.014,-0.0495],[2.333,-0.0377],[2.823,-0.0527],[3.167,-0.0527],[1.132,0.0220],[2.063,0.0149],[1.867,0.0055],[2.088,0.0063],[0.127,0.0479],[0.078,0.0456],[0.127,0.0388],[0.03,0.0377],[0.396,0.0401],[0.445,0.0346],[0.298,0.0361],[0.274,0.0338],[0.62,0.012],[0.66,0.004],[0.7,-0.003],[0.74,-0.011],[0.78,0.006],[0.82,-0.018],[0.86,-0.006],[0.9,0.001],[0.94,-0.013],[0.98,-0.022],[1.02,0.009],[0.68,-0.02],[0.72,-0.026],[0.85,-0.028],[0.95,0.012],[1.05,-0.015],[0.6,-0.027],[0.76,0.015],[0.88,0.016],[1.0,-0.01],[1.1,0.003],[1.15,-0.02],[1.2,0.008],[1.25,-0.028],[1.3,-0.008],[1.35,0.0],[1.4,-0.022],[1.45,-0.01],[1.5,-0.03],[1.55,-0.004],[1.6,-0.014],[1.65,0.011],[1.7,-0.022],[1.75,-0.012],[1.8,-0.003],[1.85,-0.027],[1.9,-0.015],[1.95,-0.022],[2.0,-0.009],[2.05,-0.03],[2.1,-0.013],[2.2,-0.027],[2.25,-0.016],[2.3,-0.032],[2.4,-0.02],[2.5,-0.012],[2.6,-0.028],[2.7,-0.022],[2.75,-0.012],[2.85,-0.027],[2.95,-0.018],[3.1,-0.03],[3.2,-0.036],[3.3,-0.027],[3.45,-0.028],[3.6,-0.03],[3.88,0.0035],[3.95,-0.0165],[4.02,-0.0125],[4.08,-0.0215],[4.15,-0.024],[4.2,-0.018],[4.28,-0.0285],[4.35,-0.025],[4.42,-0.0305],[4.5,-0.029],[4.6,-0.024],[4.66,-0.0255],[4.72,-0.032],[3.97,-0.0514],[4.69,-0.0523],[4.95,-0.003],[5.15,-0.006],[5.05,-0.021],[5.3,-0.034],[5.35,-0.022],[5.45,-0.034],[5.55,-0.040],[5.65,-0.043],[5.76,-0.0476],[5.9,-0.042],[6.05,-0.044],[6.2,-0.043],[6.75,-0.040],[7.16,-0.063],[4.1,-0.040],[4.5,-0.038],[3.9,-0.030],[5.5,-0.025],[0.58,0.026],[0.52,0.031],[0.65,-0.012],[0.7,0.022],[0.55,-0.036],[0.47,-0.038],[0.12,-0.039],[0.33,-0.041],[0.66,0.028],[0.9,-0.022]];

function fromRows(rows) {
  const out = [];
  rows.forEach(([y, xs]) => xs.forEach(x => out.push([x, y])));
  return out;
}

const FONT = '"Liberation Sans", Arial, Helvetica, sans-serif';
const INK = '#262626';
const AXIS = '#6b6b6b';
const BLUE = '#0072BD';

function xAxisCfg(idx, min, max, ticks, name) {
  return {
    type: 'value', gridIndex: idx, min: min, max: max,
    name: name || '', nameLocation: 'middle', nameGap: 30,
    nameTextStyle: { fontFamily: FONT, fontSize: 17.8, color: INK },
    axisLine: { show: true, onZero: false, lineStyle: { color: AXIS, width: 1 } },
    axisTick: { show: true, inside: true, length: 5, customValues: ticks, lineStyle: { color: AXIS } },
    axisLabel: { customValues: ticks, margin: 9, fontFamily: FONT, fontSize: 15, color: INK },
    splitLine: { show: false }
  };
}
function yAxisCfg(idx, min, max, ticks, name) {
  return {
    type: 'value', gridIndex: idx, min: min, max: max,
    name: name || '', nameLocation: 'middle', nameGap: 52,
    nameTextStyle: { fontFamily: FONT, fontSize: 17.8, color: INK },
    axisLine: { show: true, onZero: false, lineStyle: { color: AXIS, width: 1 } },
    axisTick: { show: true, inside: true, length: 5, customValues: ticks, lineStyle: { color: AXIS } },
    axisLabel: { customValues: ticks, margin: 10, fontFamily: FONT, fontSize: 15, color: INK },
    splitLine: { show: false }
  };
}
function scatter(idx, data) {
  return {
    type: 'scatter', xAxisIndex: idx, yAxisIndex: idx, data: data,
    symbol: 'circle', symbolSize: 8.6, clip: false, silent: true, large: false,
    itemStyle: { color: BLUE, opacity: 1 }, z: 2
  };
}
function fit(idx, data) {
  return {
    type: 'line', xAxisIndex: idx, yAxisIndex: idx, data: data,
    symbol: 'none', silent: true, z: 5,
    lineStyle: { color: '#ff0000', width: 4 }
  };
}
function label(x, y, text, font, align) {
  return {
    type: 'text', x: x, y: y, z: 100,
    style: { text: text, font: font, fill: '#000', align: align || 'left', verticalAlign: 'middle' }
  };
}

const yName = 'GDP Year-Ahead dev. from HP-trend';
const xName = 'spread dev. from mean';

const chart = echarts.init(document.getElementById('chart'), null, { renderer: 'canvas' });
chart.setOption({
  animation: false,
  backgroundColor: '#fff',
  grid: [
    { left: 80, top: 40, width: 487, height: 276 },
    { left: 722.5, top: 40, width: 485.5, height: 276 },
    { left: 80, top: 423, width: 487, height: 277 },
    { left: 721.5, top: 423, width: 486.5, height: 277 }
  ],
  xAxis: [
    xAxisCfg(0, -1.152, 0, tlXTicks, xName),
    xAxisCfg(1, 0, 5.734, trXTicks, xName),
    xAxisCfg(2, -0.789, 0.008, blXTicks),
    xAxisCfg(3, 0, 7.16, brXTicks)
  ],
  yAxis: [
    yAxisCfg(0, -0.041, 0.041, topYTicks, yName),
    yAxisCfg(1, -0.041, 0.041, topYTicks),
    yAxisCfg(2, -0.0651, 0.0653, botYTicks, yName),
    yAxisCfg(3, -0.0651, 0.0653, botYTicks)
  ],
  series: [
    scatter(0, tlPoints), fit(0, tlFit),
    scatter(1, trPoints), fit(1, trFit),
    scatter(2, fromRows(blRows).concat(blPoints)), fit(2, blFit),
    scatter(3, fromRows(brRows).concat(brPoints)), fit(3, brFit)
  ],
  graphic: [
    label(323.5, 25, 'Negative Spread Deviations', 'bold 19px ' + FONT, 'center'),
    label(965, 25, 'Positive Spread Deviations', 'bold 19px ' + FONT, 'center'),
    label(117, 276, corrLabels[0], 'bold 26px ' + FONT),
    label(773, 276, corrLabels[1], 'bold 26px ' + FONT),
    label(117, 656.5, corrLabels[2], 'bold 26px ' + FONT),
    label(968, 517, corrLabels[3], 'bold 22px "DejaVu Sans", sans-serif')
  ]
});
</script>
</body>
</html>
